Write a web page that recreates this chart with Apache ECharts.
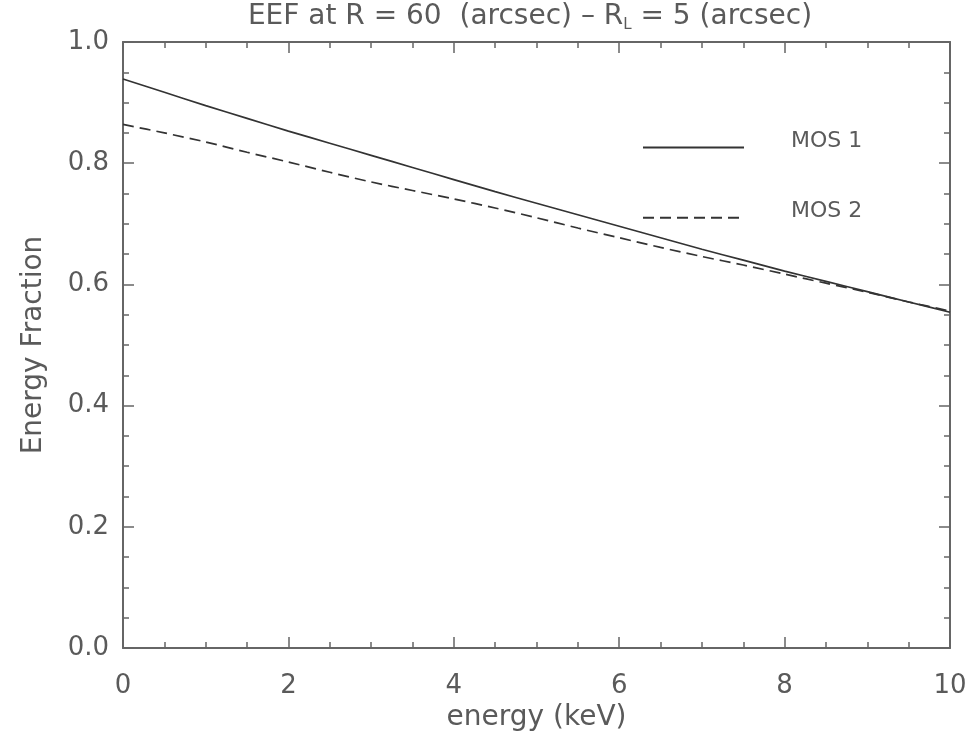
<!DOCTYPE html>
<html>
<head>
<meta charset="utf-8">
<script src="https://cdn.jsdelivr.net/npm/echarts@6/dist/echarts.min.js"></script>
<style>
html,body{margin:0;padding:0;background:#fff;}
#c{width:974px;height:737px;}
</style>
</head>
<body>
<div id="c"></div>
<script>
const energy = [0, 0.5, 1, 1.5, 2, 2.5, 3, 3.5, 4, 4.5, 5, 5.5, 6, 6.5, 7, 7.5, 8, 8.5, 9, 9.5, 10];
const mos1 = [0.939, 0.917, 0.895, 0.874, 0.853, 0.833, 0.813, 0.793, 0.773, 0.753, 0.734, 0.715, 0.696, 0.677, 0.658, 0.640, 0.622, 0.605, 0.588, 0.571, 0.554];
const mos2 = [0.864, 0.850, 0.835, 0.818, 0.802, 0.785, 0.769, 0.755, 0.741, 0.726, 0.710, 0.693, 0.677, 0.661, 0.646, 0.632, 0.617, 0.602, 0.587, 0.571, 0.556];
const seriesNames = ['MOS 1', 'MOS 2'];
const xTicks = [0, 2, 4, 6, 8, 10];
const yTicks = [0.0, 0.2, 0.4, 0.6, 0.8, 1.0];

const axisColor = '#666';
const textColor = '#5a5a5a';
const font = 'DejaVu Sans';

const chart = echarts.init(document.getElementById('c'), null, {renderer: 'canvas'});

function xAxisCfg(pos, showLabels) {
  return {
    type: 'value', position: pos, min: 0, max: 10, interval: 2,
    name: showLabels ? 'energy (keV)' : '', nameLocation: 'middle', nameGap: 56,
    nameTextStyle: {color: textColor, fontSize: 28, fontFamily: font},
    axisLine: {show: true, onZero: false, lineStyle: {color: axisColor, width: 2}},
    axisTick: {show: true, inside: true, length: 11, lineStyle: {color: axisColor, width: 1.5}},
    minorTick: {show: true, splitNumber: 4, length: 6, lineStyle: {color: axisColor, width: 1.5}},
    axisLabel: {show: showLabels, margin: 25, color: textColor, fontSize: 26, fontFamily: font,
      formatter: v => xTicks.includes(v) ? String(v) : ''},
    splitLine: {show: false}
  };
}
function yAxisCfg(pos, showLabels) {
  return {
    type: 'value', position: pos, min: 0, max: 1, interval: 0.2,
    name: showLabels ? 'Energy Fraction' : '', nameLocation: 'middle', nameGap: 75,
    nameTextStyle: {color: textColor, fontSize: 28, fontFamily: font},
    axisLine: {show: true, onZero: false, lineStyle: {color: axisColor, width: 2}},
    axisTick: {show: true, inside: true, length: 11, lineStyle: {color: axisColor, width: 1.5}},
    minorTick: {show: true, splitNumber: 4, length: 6, lineStyle: {color: axisColor, width: 1.5}},
    axisLabel: {show: showLabels, margin: 14, color: textColor, fontSize: 26, fontFamily: font,
      formatter: v => yTicks.some(t => Math.abs(t - v) < 1e-9) ? v.toFixed(1) : ''},
    splitLine: {show: false}
  };
}

chart.setOption({
  backgroundColor: '#fff',
  animation: false,
  title: {
    text: '{a|EEF at R = 60  (arcsec) – R}{s|L}{a| = 5 (arcsec)}',
    left: 530, textAlign: 'center', top: 0, padding: 0,
    textStyle: {
      fontWeight: 'normal',
      rich: {
        a: {fontSize: 28, color: textColor, fontFamily: font, fontWeight: 'normal'},
        s: {fontSize: 15, color: textColor, fontFamily: font, fontWeight: 'normal', verticalAlign: 'bottom', padding: [18, 0, 0, 0]}
      }
    }
  },
  grid: {left: 123, right: 24, top: 42, bottom: 89, outerBoundsMode: 'none', containLabel: false},
  legend: {
    orient: 'vertical', left: 642, top: 130, padding: 0, itemWidth: 101, itemHeight: 22, itemGap: 44,
    data: seriesNames,
    itemStyle: {opacity: 0},
    formatter: name => '{t|' + name + '}',
    textStyle: {
      color: textColor, fontSize: 22, fontFamily: font,
      rich: {t: {color: textColor, fontSize: 22, fontFamily: font, padding: [0, 0, 13, 42]}}
    }
  },
  xAxis: [xAxisCfg('bottom', true), xAxisCfg('top', false)],
  yAxis: [yAxisCfg('left', true), yAxisCfg('right', false)],
  series: [
    {
      name: seriesNames[0], type: 'line', symbol: 'none', smooth: 0.3,
      data: energy.map((e, i) => [e, mos1[i]]),
      lineStyle: {color: '#333', width: 1.7, type: 'solid'},
      itemStyle: {color: '#333'}
    },
    {
      name: seriesNames[1], type: 'line', symbol: 'none', smooth: 0.3,
      data: energy.map((e, i) => [e, mos2[i]]),
      lineStyle: {color: '#333', width: 1.7, type: [11, 6]},
      itemStyle: {color: '#333'}
    }
  ]
});
</script>
</body>
</html>
